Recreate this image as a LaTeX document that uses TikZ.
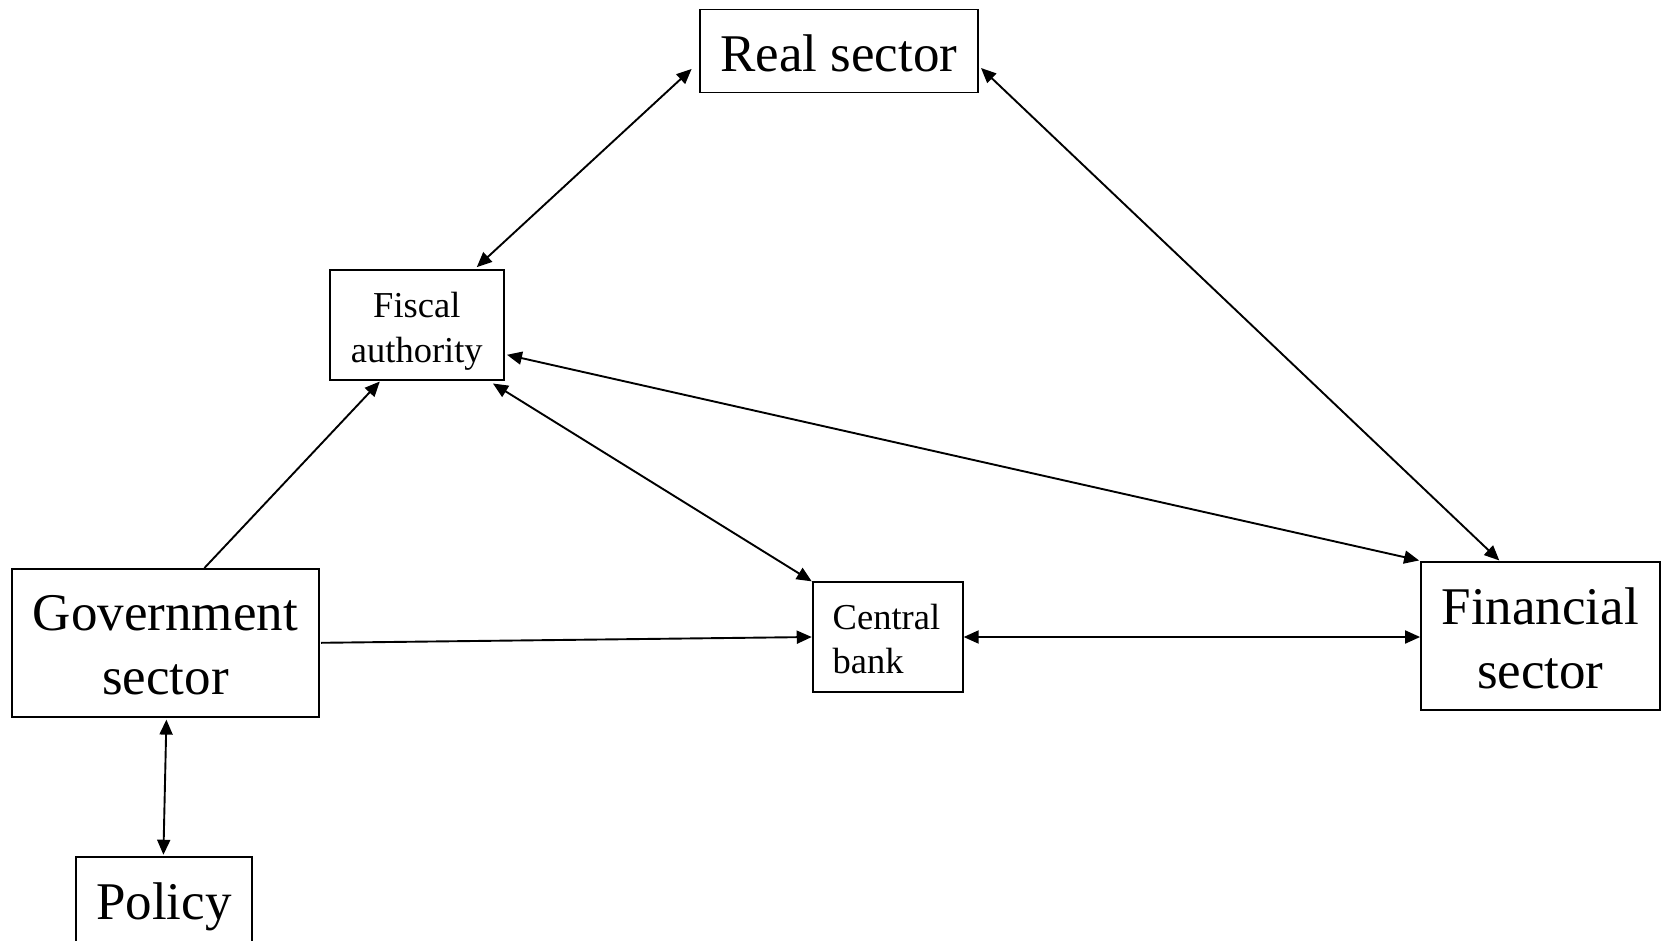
\documentclass[tikz,border=0pt]{standalone}
\usepackage{fontspec}
\setmainfont{Liberation Serif}
\usetikzlibrary{arrows.meta}
\begin{document}
\begin{tikzpicture}[x=1pt,y=-1pt,
  box/.style={draw=black, line width=1.9pt, inner sep=0pt},
  bigtxt/.style={font=\fontsize{53}{64}\selectfont},
  smalltxt/.style={font=\fontsize{36.5}{44.5}\selectfont},
  link/.style={line width=1.9pt, {Triangle[length=15pt,width=13pt]}-{Triangle[length=15pt,width=13pt]}},
  onelink/.style={line width=1.9pt, -{Triangle[length=15pt,width=13pt]}}]
\useasboundingbox (0,0) rectangle (1667,940);
\node[box,minimum width=278.5pt,minimum height=83pt,
  label={[bigtxt,yshift=-2pt]center:Real sector}] (real) at (838.8,51) {};
\node[box,minimum width=174.4pt,minimum height=109.5pt,
  label={[smalltxt,align=center,yshift=-6.5pt]center:{Fiscal\\authority}}] (fis) at (416.8,324.8) {};
\node[box,minimum width=307.3pt,minimum height=147.7pt,
  label={[bigtxt,align=center,yshift=-2pt]center:{Government\\sector}}] (gov) at (165.4,642.8) {};
\node[box,bigtxt,minimum width=175.7pt,minimum height=100pt] (pol) at (163.9,906.7) {Policy};
\node[box,minimum width=150pt,minimum height=109.4pt,
  label={[smalltxt,align=left,text width=110pt,yshift=-2pt]center:{Central\\bank}}] (cb) at (887.7,637) {};
\node[box,minimum width=238.5pt,minimum height=147.6pt,
  label={[bigtxt,align=center,yshift=-2pt]center:{Financial\\sector}}] (fin) at (1540.3,636.2) {};
\draw[link] ([shift={(-7,18)}]real.west) -- ([shift={(60,-2)}]fis.north);
\draw[link] ([shift={(2,17)}]real.east) -- ([shift={(-41,-1)}]fin.north);
\draw[link] ([shift={(2,30)}]fis.east) -- ([shift={(-1,-1)}]fin.north west);
\draw[link] ([shift={(-12,3)}]fis.south east) -- (cb.north west);
\draw[onelink] ([shift={(39,0)}]gov.north) -- ([shift={(-37,1)}]fis.south);
\draw[onelink] ([shift={(1,0)}]gov.east) -- (cb.west);
\draw[link] (cb.east) -- (cb.east -| fin.west);
\draw[link] ([shift={(1,2)}]gov.south) -- ([shift={(-0.5,-1)}]pol.north);
\end{tikzpicture}
\end{document}
